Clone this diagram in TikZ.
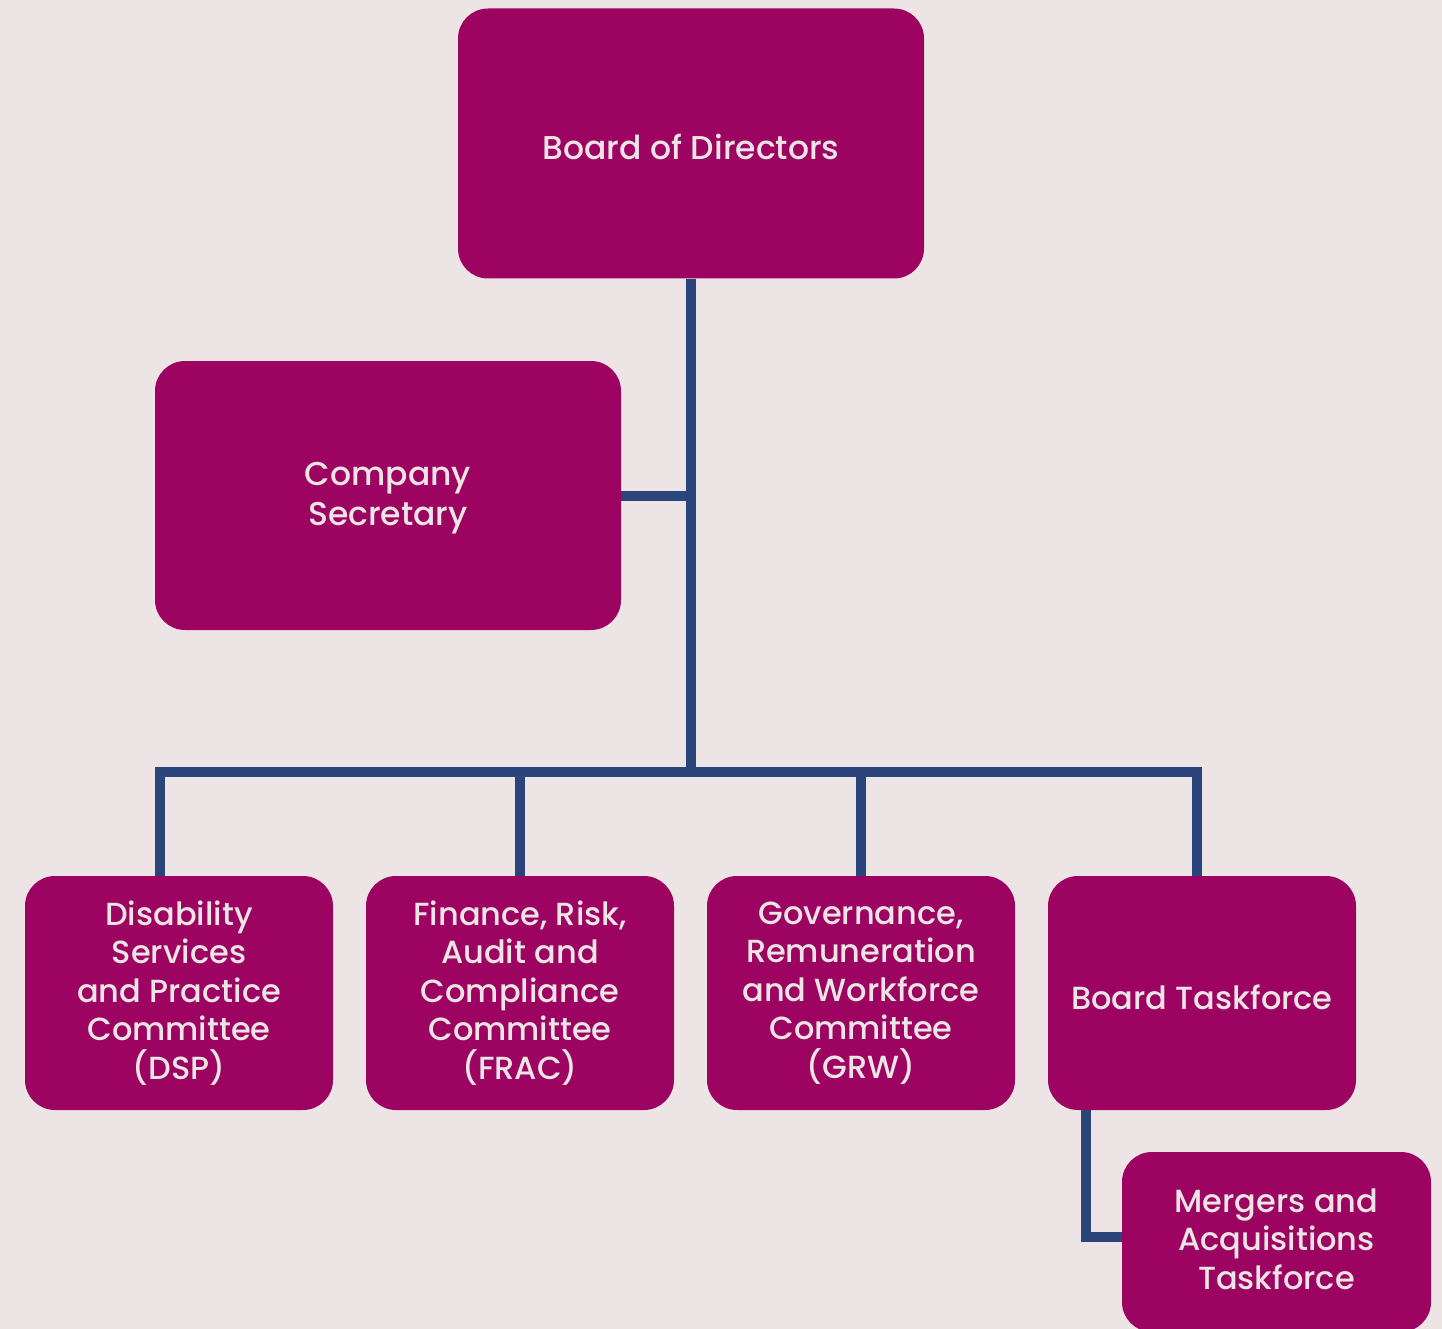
\documentclass[tikz,border=0pt]{standalone}
\usepackage{fontspec}
\setmainfont{Poppins}[UprightFont={* Medium}]
\definecolor{bg}{HTML}{EDE4E5}
\definecolor{boxc}{HTML}{9D0360}
\definecolor{linec}{HTML}{2B4479}
\definecolor{txt}{HTML}{EDE4E5}
\begin{document}
\begin{tikzpicture}[x=1pt,y=-1pt,
  orgbox/.style={rectangle, rounded corners=30pt, fill=boxc, inner sep=0pt, minimum width=#1},
  lbl/.style={text=txt, align=center, inner sep=0pt},
  bigtxt/.style={lbl, font=\fontsize{33}{40}\selectfont},
  smalltxt/.style={lbl, font=\fontsize{32}{38.5}\selectfont},
  conn/.style={draw=linec, line width=10pt, line join=miter}]
\fill[bg] (0,0) rectangle (1442,1329);
\useasboundingbox (0,0) rectangle (1442,1329);
\begin{scope}
\clip (0,0) rectangle (1442,1329);
\node[orgbox=466pt, minimum height=270pt] (board) at (691,143.5) {};
\node[orgbox=466pt, minimum height=269pt] (sec) at (388,495.5) {};
\node[orgbox=308pt, minimum height=234pt] (dsp) at (179,993) {};
\node[orgbox=308pt, minimum height=234pt] (frac) at (520,993) {};
\node[orgbox=308pt, minimum height=234pt] (grw) at (861,993) {};
\node[orgbox=308pt, minimum height=234pt] (task) at (1202,993) {};
\node[orgbox=309pt, minimum height=180pt] (merg) at (1276.5,1242) {};
\end{scope}
\node[bigtxt, yshift=-3pt] (boardt) at (board) {Board of Directors};
\node[bigtxt, yshift=-3pt] (sect) at (sec) {Company\\Secretary};
\node[smalltxt] (dspt) at (dsp) {Disability\\Services\\and Practice\\Committee\\(DSP)};
\node[smalltxt] (fract) at (frac) {Finance, Risk,\\Audit and\\Compliance\\Committee\\(FRAC)};
\node[smalltxt] (grwt) at (grw) {Governance,\\Remuneration\\and Workforce\\Committee\\(GRW)};
\node[smalltxt, yshift=-4pt] (taskt) at (task) {Board Taskforce};
\node[smalltxt, yshift=3pt] (mergt) at (merg) {Mergers and\\Acquisitions\\Taskforce};
\coordinate (hub) at (691,772);
\draw[conn] (board.south) -- (hub);
\draw[conn] (sec.east) -- (sec.east -| hub);
\draw[conn] ([xshift=-19pt]dsp.north) |- ([xshift=-5pt]task.north |- hub) -- ([xshift=-5pt]task.north);
\draw[conn] (frac.north) -- (frac.north |- hub);
\draw[conn] (grw.north) -- (grw.north |- hub);
\draw[conn] ([xshift=-116pt]task.south) |- ([yshift=5pt]merg.west);
\end{tikzpicture}
\end{document}
